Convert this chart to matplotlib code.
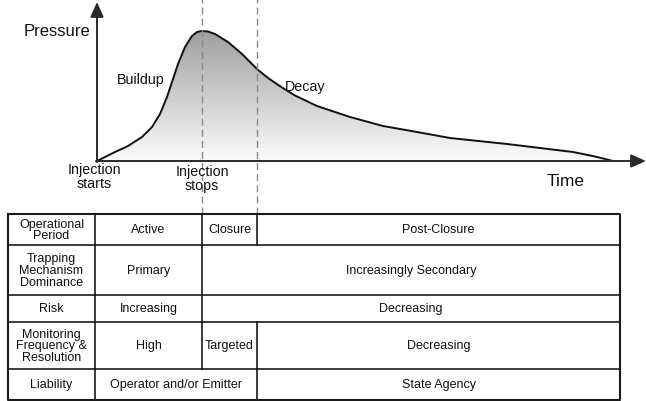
import numpy as np
import matplotlib.pyplot as plt
from matplotlib.colors import LinearSegmentedColormap
from matplotlib.patches import Polygon

plt.rcParams['font.family'] = ['Liberation Sans', 'DejaVu Sans']

# pressure curve, arbitrary units
time = [0, 1.8, 3.1, 4.5, 5.5, 6.3, 7.0, 7.5, 8.1, 8.8, 9.5, 10.0, 10.5, 11.1,
        11.8, 13.1, 14.5, 16.0, 17.1, 18.5, 19.8, 22.0, 25.3, 28.6, 32.0, 35.3,
        41.0, 47.6, 49.8, 51.6]
pressure = [0, 0.9, 1.5, 2.4, 3.4, 4.7, 6.4, 7.9, 9.7, 11.4, 12.5, 12.9, 13.0, 12.95,
            12.7, 11.9, 10.7, 9.2, 8.3, 7.35, 6.55, 5.5, 4.4, 3.5, 2.9, 2.3,
            1.7, 0.9, 0.45, 0.0]
injection_stop = 10.5
closure_end = 16.0

# table contents: (text, first phase, last phase + 1); phases = active, closure, post-closure
row_labels = ["Operational\nPeriod", "Trapping\nMechanism\nDominance", "Risk",
              "Monitoring\nFrequency &\nResolution", "Liability"]
row_cells = [
    [("Active", 0, 1), ("Closure", 1, 2), ("Post-Closure", 2, 3)],
    [("Primary", 0, 1), ("Increasingly Secondary", 1, 3)],
    [("Increasing", 0, 1), ("Decreasing", 1, 3)],
    [("High", 0, 1), ("Targeted", 1, 2), ("Decreasing", 2, 3)],
    [("Operator and/or Emitter", 0, 2), ("State Agency", 2, 3)],
]

W, H = 646, 402
fig = plt.figure(figsize=(W / 100, H / 100), dpi=100)

# overlay in pixel coords for arrows, labels and table
ov = fig.add_axes([0, 0, 1, 1])
ov.set_xlim(0, W)
ov.set_ylim(H, 0)
ov.axis('off')
ov.set_zorder(2)
ov.patch.set_visible(False)

x0, y0 = 97, 162
ax = fig.add_axes([x0 / W, (H - y0) / H, (W - x0) / W, y0 / H])
ax.set_xlim(0, (W - x0) / 10)
ax.set_ylim(0, y0 / 10)
ax.axis('off')
ax.set_zorder(1)

# gradient fill under the curve
cmap = LinearSegmentedColormap.from_list('g', ['#fbfbfb', '#888888'])
grad = np.linspace(0, 1, 256).reshape(-1, 1)
poly = Polygon(np.column_stack([time, pressure]), closed=True,
               facecolor='none', edgecolor='none')
ax.add_patch(poly)
im = ax.imshow(grad, extent=[0, (W - x0) / 10, 0, y0 / 10], origin='lower',
               aspect='auto', cmap=cmap, interpolation='bilinear')
im.set_clip_path(poly)
ax.plot(time, pressure, color='#111111', lw=1.4, solid_joinstyle='round')

# dashed phase markers, running down to the table
for t in [injection_stop, closure_end]:
    ax.plot([t, t], [-5.3, y0 / 10], color='#8a8a8a', lw=1.0,
            ls=(0, (5, 3)), clip_on=False)

# axes with arrow heads
arr = dict(arrowstyle='-|>,head_length=0.45,head_width=0.2', color='#2a2a2a',
           lw=1.4, mutation_scale=20, shrinkA=0, shrinkB=0)
ov.annotate('', xy=(x0, 3), xytext=(x0, y0 + 1), arrowprops=arr)
ov.annotate('', xy=(646, y0), xytext=(x0 - 1, y0), arrowprops=arr)

ov.text(90, 31, "Pressure", ha='right', va='center', fontsize=12, color='#111111')
ov.text(566, 182, "Time", ha='center', va='center', fontsize=12.5, color='#111111')
ov.text(141, 80, "Buildup", ha='center', va='center', fontsize=10.3, color='#111111')
ov.text(305, 87, "Decay", ha='center', va='center', fontsize=10.3, color='#111111')
ov.text(94, 177, "Injection\nstarts", ha='center', va='center', fontsize=10.3,
        linespacing=1.0, color='#111111')
ov.text(202, 179, "Injection\nstops", ha='center', va='center', fontsize=10.3,
        linespacing=1.0, color='#111111')

# table
col_x = [8, 95, 202, 257, 620]
row_y = [215, 246, 296, 323, 370, 401]
lc = '#1a1a1a'
ov.plot([col_x[0], col_x[-1], col_x[-1], col_x[0], col_x[0]],
        [row_y[0], row_y[0], row_y[-1], row_y[-1], row_y[0]], color=lc, lw=1.5)
for y in row_y[1:-1]:
    ov.plot([col_x[0], col_x[-1]], [y, y], color=lc, lw=1.2)

for i, (label, cells) in enumerate(zip(row_labels, row_cells)):
    ya, yb = row_y[i], row_y[i + 1]
    ym = (ya + yb) / 2
    ov.plot([col_x[1], col_x[1]], [ya, yb], color=lc, lw=1.2)
    ov.text((col_x[0] + col_x[1]) / 2, ym, label, ha='center', va='center',
            fontsize=9, linespacing=0.95, color='#111111')
    for text, a, b in cells:
        xa, xb = col_x[a + 1], col_x[b + 1]
        if a > 0:
            ov.plot([xa, xa], [ya, yb], color=lc, lw=1.2)
        ov.text((xa + xb) / 2, ym, text, ha='center', va='center', fontsize=9,
                color='#111111')

fig.savefig('out.png', dpi=100, facecolor='white')
